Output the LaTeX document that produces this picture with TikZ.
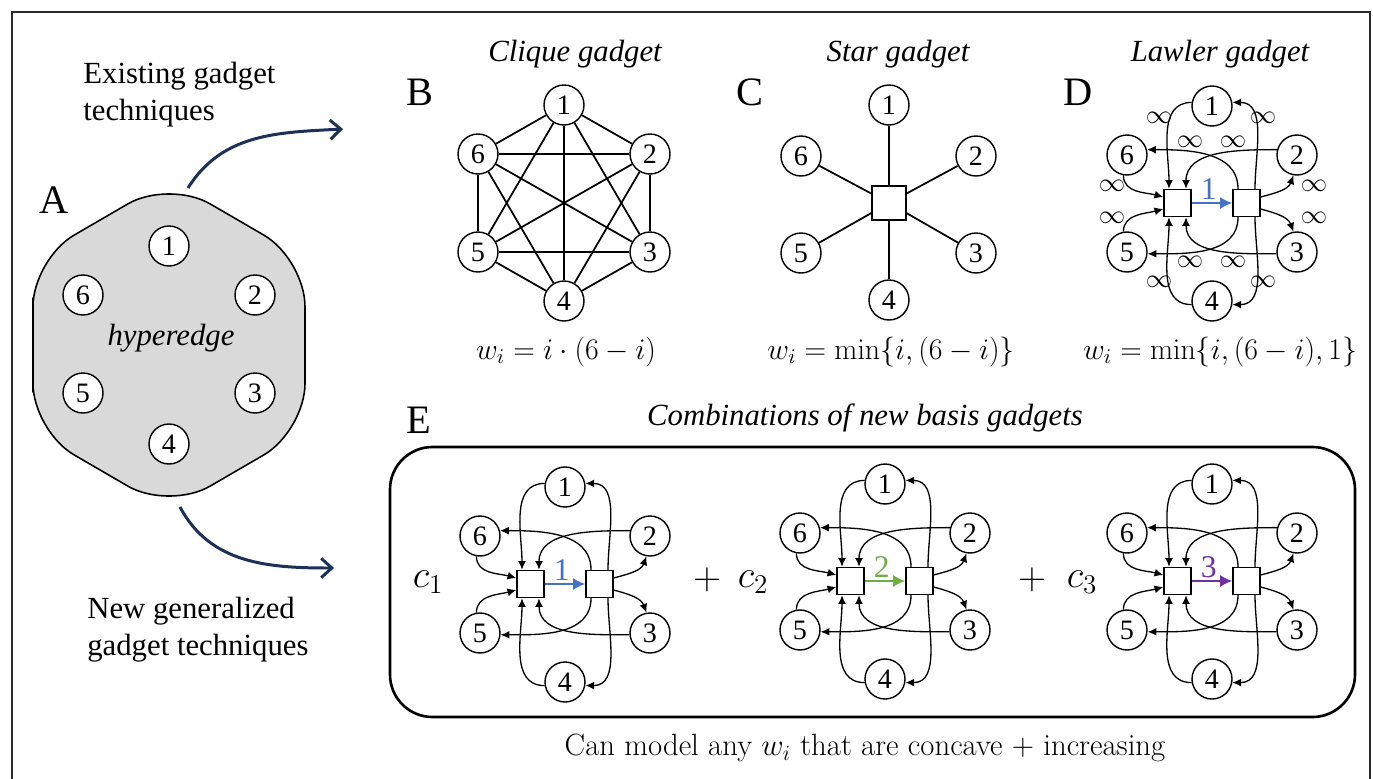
\RequirePackage{fix-cm}
\documentclass[tikz,border=0pt]{standalone}
\usepackage[no-math]{fontspec}
\setmainfont{Liberation Serif}
\usepackage{tikz}
\usetikzlibrary{arrows.meta, calc}
\definecolor{navyArrow}{RGB}{28,48,90}
\definecolor{wBlue}{RGB}{68,114,196}
\definecolor{wGreen}{RGB}{112,173,71}
\definecolor{wPurple}{RGB}{112,48,160}
\definecolor{hexGray}{RGB}{217,217,217}
\definecolor{frameGray}{HTML}{2B2B2B}

% one Lawler-type gadget: prefix, centre, colour, weight of the middle arc
\newcommand{\lawlergadget}[4]{%
  \begin{scope}[shift={#2}]
    \node[vtx] (#1-1) at (0,-97) {1};
    \node[vtx] (#1-2) at (85,-48) {2};
    \node[vtx] (#1-3) at (85,49) {3};
    \node[vtx] (#1-4) at (0,98) {4};
    \node[vtx] (#1-5) at (-85,49) {5};
    \node[vtx] (#1-6) at (-85,-48) {6};
    \node[hub] (#1-L) at (-34.5,0) {};
    \node[hub] (#1-R) at (34.5,0) {};
    \draw[arc] (#1-1.170) to[out=180,in=90] ([xshift=-0.17cm]#1-L.north);
    \draw[arc] (#1-2.165) to[out=180,in=90] ([xshift=0.17cm]#1-L.north);
    \draw[arc] ([xshift=0.17cm]#1-R.north) to[out=90,in=0] (#1-1.10);
    \draw[arc] ([xshift=-0.17cm]#1-R.north) to[out=90,in=0] (#1-6.15);
    \draw[arc] (#1-6.260) to[out=270,in=165] ([yshift=0.12cm]#1-L.west);
    \draw[arc] (#1-5.100) to[out=90,in=195] ([yshift=-0.12cm]#1-L.west);
    \draw[arc] ([yshift=0.12cm]#1-R.east) to[out=15,in=250] (#1-2.260);
    \draw[arc] ([yshift=-0.12cm]#1-R.east) to[out=-15,in=110] (#1-3.100);
    \draw[arc] (#1-3.185) to[out=180,in=-90] ([xshift=0.17cm]#1-L.south);
    \draw[arc] ([xshift=-0.17cm]#1-R.south) to[out=-90,in=0] (#1-5.355);
    \draw[arc] (#1-4.190) to[out=180,in=-90] ([xshift=-0.17cm]#1-L.south);
    \draw[arc] ([xshift=0.17cm]#1-R.south) to[out=-90,in=0] (#1-4.350);
    \draw[cutarc=#3] (#1-L) -- node[wlab, text=#3, pos=0.42] {#4} (#1-R);
  \end{scope}}

\begin{document}
\begin{tikzpicture}[x=0.02cm, y=-0.02cm,
  vtx/.style={draw, circle, line width=0.8pt, minimum size=0.8cm, inner sep=0pt,
              fill=white, font=\fontsize{16}{16}\selectfont},
  hub/.style={draw, line width=0.8pt, minimum size=0.54cm, inner sep=0pt, fill=white},
  edge/.style={line width=1pt},
  arc/.style={line width=0.75pt, -{Latex[length=5pt,width=4.5pt]}},
  cutarc/.style={draw=#1, line width=1.2pt, -{Latex[length=7pt,width=7pt]}},
  wlab/.style={above, inner sep=1.5pt, font=\fontsize{18}{18}\selectfont},
  panel/.style={inner sep=0pt, font=\fontsize{23}{23}\selectfont},
  body/.style={inner sep=0pt, font=\fontsize{17.5}{21}\selectfont},
  title/.style={inner sep=0pt, font=\fontsize{17.5}{21}\selectfont\itshape},
  formula/.style={inner sep=0pt, font=\fontsize{17}{21}\selectfont},
  coef/.style={inner sep=0pt, font=\fontsize{22}{22}\selectfont},
  inflab/.style={inner sep=0pt, font=\fontsize{15}{15}\selectfont},
  route/.style={navyArrow, line width=1.7pt, -{Straight Barb[length=6pt,width=11pt]}},
]
\useasboundingbox (0,0) rectangle (1373,778);
\draw[frameGray, line width=1.2pt] (12,800) -- (12,12) -- (1370,12) -- (1370,800);

% A: the hyperedge
\node[panel] (labA) at (54,200) {A};
\draw[fill=hexGray, line width=0.9pt, rounded corners=0.95cm]
  (33,345) -- (33,259) -- (169,180) -- (305,259) -- (305,431) -- (169,510) -- (33,431) -- cycle;
\node[title] (hyp) at (171,338) {hyperedge};
\foreach \i/\x/\y in {1/169/246, 2/255/295, 3/255/393, 4/169/444, 5/83/393, 6/83/295}
  \node[vtx] (A\i) at (\x,\y) {\i};

\node[body, align=left, anchor=west] (existing) at (83,95) {Existing gadget\\techniques};
\node[body, align=left, anchor=west] (general) at (87,630) {New generalized\\gadget techniques};
\coordinate (upStart) at (188,188);
\coordinate (upEnd) at (343,129);
\coordinate (downStart) at (180,507);
\coordinate (downEnd) at (334,568);
\draw[route] (upStart) to[out=58,in=183] (upEnd);
\draw[route] (downStart) to[out=-62,in=180] (downEnd);

% B: clique gadget
\node[panel] (labB) at (420,92) {B};
\node[title] (titB) at (575,54) {Clique gadget};
\begin{scope}[shift={(564,203)}]
  \foreach \i/\x/\y in {1/0/-98, 2/86/-49, 3/86/49, 4/0/98, 5/-86/49, 6/-86/-49}
    \node[vtx] (B\i) at (\x,\y) {\i};
  \foreach \i in {1,...,5} {
    \pgfmathtruncatemacro\nxt{\i+1}
    \foreach \j in {\nxt,...,6}
      \draw[edge] (B\i) -- (B\j);
  }
\end{scope}
\node[formula] (fB) at (566,352) {$w_i = i\cdot(6-i)$};

% C: star gadget
\node[panel] (labC) at (750,92) {C};
\node[title] (titC) at (898,54) {Star gadget};
\begin{scope}[shift={(889,203)}]
  \node[hub, minimum size=0.68cm] (C0) at (0,0) {};
  \foreach \i/\x/\y in {1/0/-98, 2/87/-47, 3/87/50, 4/0/97, 5/-88/50, 6/-88/-47} {
    \node[vtx] (C\i) at (\x,\y) {\i};
    \draw[edge] (C0) -- (C\i);
  }
\end{scope}
\node[formula] (fC) at (891,352) {$w_i = \min\{i, (6-i)\}$};

% D: Lawler gadget
\node[panel] (labD) at (1078,92) {D};
\node[title] (titD) at (1220,54) {Lawler gadget};
\lawlergadget{D}{(1212,203)}{wBlue}{1}
\begin{scope}[shift={(1212,203)}]
  \foreach \dx/\dy [count=\k] in {-53/-85, 51/-85, -22/-61, 21/-61, -100/-17, 102/-17,
                                  -100/15, 102/15, -22/59, 21/59, -53/79, 51/79}
    \node[inflab] (D-inf\k) at (\dx,\dy) {$\infty$};
\end{scope}
\node[formula] (fD) at (1220,352) {$w_i = \min\{i, (6-i), 1\}$};

% E: sums of basis gadgets
\node[panel] (labE) at (419,420) {E};
\node[title] (titE) at (865,418) {Combinations of new basis gadgets};
\draw[line width=1.5pt, rounded corners=0.85cm] (390,447) rectangle (1355,717);
\node[coef] (c1) at (428,582) {$c_1$};
\lawlergadget{E1}{(565,584)}{wBlue}{1}
\node[coef] (plus1) at (707,580) {$+$};
\node[coef] (c2) at (753,582) {$c_2$};
\lawlergadget{E2}{(885,581)}{wGreen}{2}
\node[coef] (plus2) at (1032,580) {$+$};
\node[coef] (c3) at (1082,582) {$c_3$};
\lawlergadget{E3}{(1212,581)}{wPurple}{3}

\node[body, font=\fontsize{17.5}{21}\fontfamily{lmr}\selectfont] (note) at (865,748)
  {Can model any $w_i$ that are concave + increasing};
\end{tikzpicture}
\end{document}
